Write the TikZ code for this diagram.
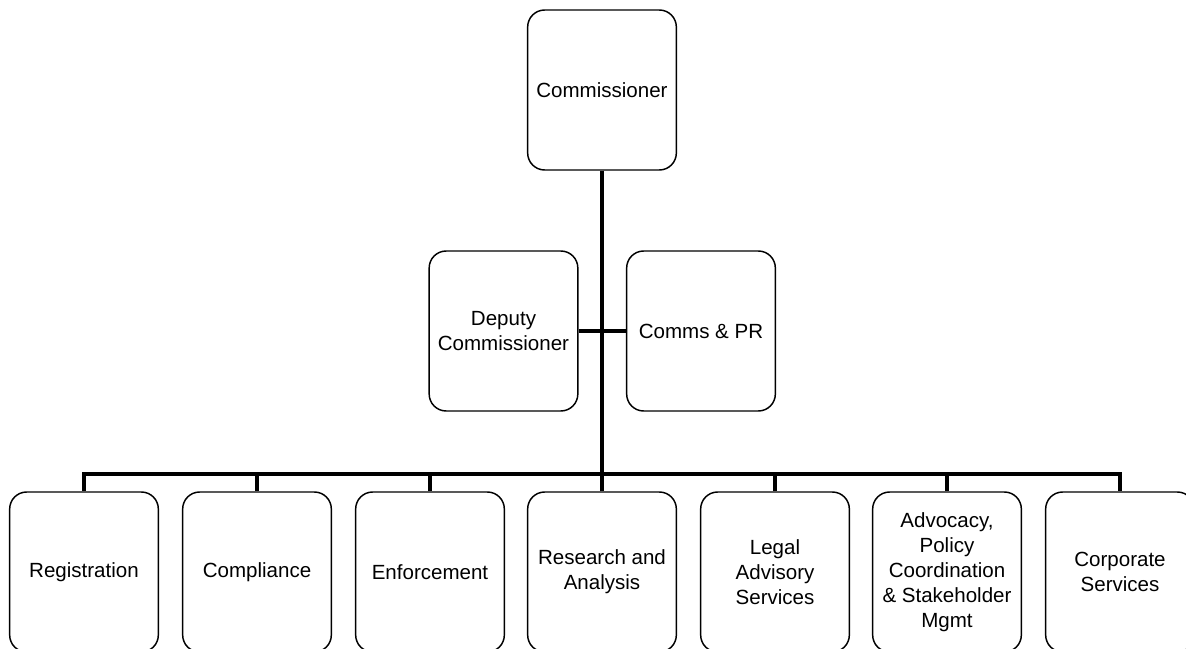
\documentclass[tikz,border=0pt]{standalone}
\usepackage{fontspec}
\setmainfont{Liberation Sans}
\usetikzlibrary{positioning}

\tikzset{
  unitbox/.style={draw, rounded corners=12.75pt, line width=1.1pt,
    minimum width=111.5pt, minimum height=120pt, inner sep=2pt,
    align=center, font=\fontsize{15.4}{18.75}\selectfont},
  link/.style={line width=3pt}
}

\begin{document}
\begin{tikzpicture}[x=0.75pt, y=-0.75pt]
    \useasboundingbox (0,0) rectangle (1186,649);
    \clip (0,0) rectangle (1186,649);

    \coordinate (bus) at (602,474);

    \node[unitbox] (comm) at (602,90) {Commissioner};
    \node[unitbox] (dep) at (503.5,331) {Deputy\\Commissioner};
    \node[unitbox] (pr) at (701,331) {Comms \& PR};

    \node[unitbox] (reg) at (84,572) {Registration};
    \node[unitbox] (comp) at (257,572) {Compliance};
    \node[unitbox] (enf) at (430,572) {Enforcement};
    \node[unitbox] (res) at (602,572) {Research and\\Analysis};
    \node[unitbox] (legal) at (775,572) {Legal\\Advisory\\Services};
    \node[unitbox] (adv) at (947,572) {Advocacy,\\Policy\\Coordination\\\& Stakeholder\\Mgmt};
    \node[unitbox] (corp) at (1120,572) {Corporate\\Services};

    \draw[link] (comm.south) -- (comm.south |- bus);
    \draw[link] (dep.east) -- (pr.west);
    \draw[link] (reg.north) -- (reg.north |- bus) -- (corp.north |- bus) -- (corp.north);
    \draw[link] (comp.north) -- (comp.north |- bus);
    \draw[link] (enf.north) -- (enf.north |- bus);
    \draw[link] (res.north) -- (res.north |- bus);
    \draw[link] (legal.north) -- (legal.north |- bus);
    \draw[link] (adv.north) -- (adv.north |- bus);
\end{tikzpicture}
\end{document}
